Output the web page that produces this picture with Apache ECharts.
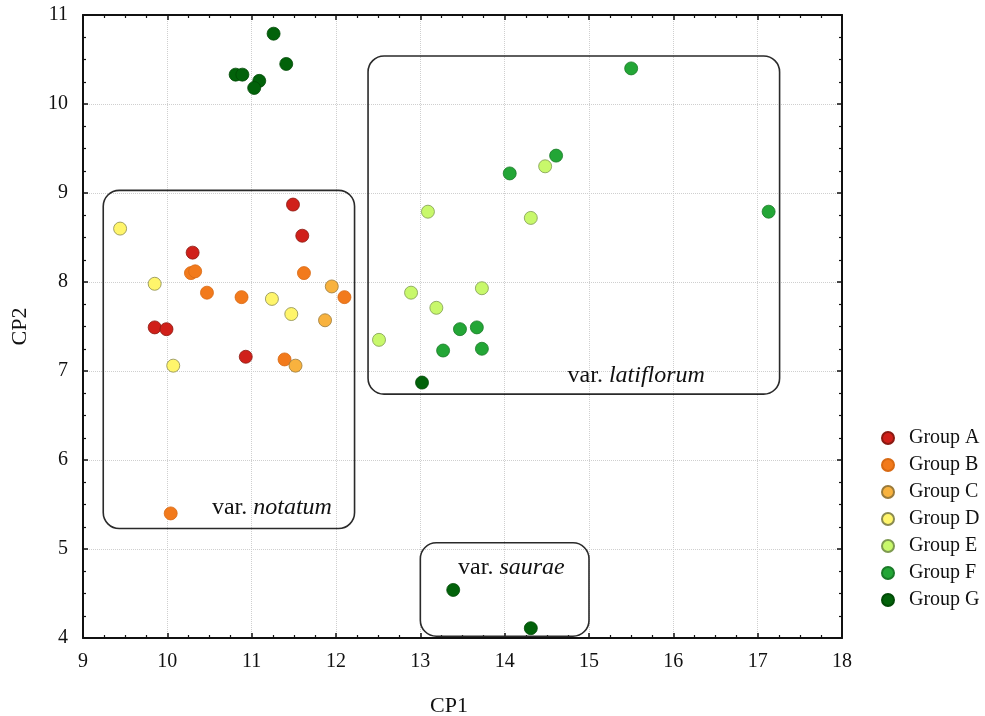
<!DOCTYPE html>
<html>
<head>
<meta charset="utf-8">
<script src="https://cdn.jsdelivr.net/npm/echarts@6/dist/echarts.min.js"></script>
<style>html,body{margin:0;padding:0;background:#fff;}#c{width:985px;height:716px;}</style>
</head>
<body>
<div id="c"></div>
<script>
const groupNames = ['Group A','Group B','Group C','Group D','Group E','Group F','Group G'];
const groupA = [[11.49,8.87],[11.60,8.52],[10.30,8.33],[9.85,7.49],[9.99,7.47],[10.93,7.16]];
const groupB = [[10.28,8.10],[10.33,8.12],[10.47,7.88],[10.88,7.83],[11.62,8.10],[12.10,7.83],[11.39,7.13],[10.04,5.40]];
const groupC = [[11.95,7.95],[11.87,7.57],[11.52,7.06]];
const groupD = [[9.44,8.60],[9.85,7.98],[11.24,7.81],[11.47,7.64],[10.07,7.06]];
const groupE = [[13.09,8.79],[14.31,8.72],[14.48,9.30],[12.89,7.88],[13.73,7.93],[13.19,7.71],[12.51,7.35]];
const groupF = [[15.50,10.40],[14.61,9.42],[14.06,9.22],[17.13,8.79],[13.47,7.47],[13.67,7.49],[13.27,7.23],[13.73,7.25]];
const groupG = [[11.26,10.79],[11.41,10.45],[10.81,10.33],[10.89,10.33],[11.09,10.26],[11.03,10.18],[13.02,6.87],[13.39,4.54],[14.31,4.11]];
// variety boxes: [xMin, yMin, xMax, yMax, labelX, labelY]
const boxNotatum = [9.24, 5.23, 12.22, 9.03, 11.24, 5.46];
const boxLatiflorum = [12.38, 6.74, 17.26, 10.54, 15.56, 6.95];
const boxSaurae = [13.0, 4.02, 15.0, 5.07, 14.08, 4.79];
const boxLabels = ['notatum', 'latiflorum', 'saurae'];
const xTicks = [9, 18, 1];
const yTicks = [4, 11, 1];

const FONT = 'Liberation Serif';
const colors = ['#d0201a','#f27a1c','#f8b23e','#fff56b','#c8f86b','#23a636','#02620a'];
const borders = ['#8a1a12','#d86a14','#9a7a3a','#8a8a50','#7e9a50','#1a7a28','#014a06'];
const groupData = [groupA, groupB, groupC, groupD, groupE, groupF, groupG];

const chart = echarts.init(document.getElementById('c'), null, {renderer: 'canvas'});

const axisCommon = {
  type: 'value',
  interval: 1,
  axisLine: {show: true, lineStyle: {color: '#111', width: 2}},
  axisTick: {show: true, inside: true, length: 5, lineStyle: {color: '#111', width: 1.5}},
  minorTick: {show: true, splitNumber: 4, length: 3, lineStyle: {color: '#111', width: 1.2}},
  splitLine: {show: false},
  minorSplitLine: {show: false}
};

const scatterSeries = groupData.map((d, i) => ({
  name: groupNames[i],
  type: 'scatter',
  data: d,
  symbol: 'circle',
  symbolSize: 13,
  z: 3,
  itemStyle: {color: colors[i], borderColor: borders[i], borderWidth: 0.8, opacity: 1}
}));

const boxSeries = {
  type: 'custom',
  coordinateSystem: 'cartesian2d',
  xAxisIndex: 0, yAxisIndex: 0,
  silent: true,
  z: 2,
  data: [boxNotatum.concat([0]), boxLatiflorum.concat([1]), boxSaurae.concat([2])],
  renderItem: function (params, api) {
    const tl = api.coord([api.value(0), api.value(3)]);
    const br = api.coord([api.value(2), api.value(1)]);
    const lp = api.coord([api.value(4), api.value(5)]);
    const name = boxLabels[api.value(6)];
    return {
      type: 'group',
      children: [
        {type: 'rect', shape: {x: tl[0], y: tl[1], width: br[0] - tl[0], height: br[1] - tl[1], r: 16},
          style: {fill: 'none', stroke: '#2a2a2a', lineWidth: 1.6}},
        {type: 'text', x: lp[0], y: lp[1],
          style: {text: '{r|var. }{i|' + name + '}', align: 'center', verticalAlign: 'middle',
            rich: {
              r: {fontFamily: FONT, fontSize: 24, fill: '#111', color: '#111'},
              i: {fontFamily: FONT, fontSize: 24, fontStyle: 'italic', fill: '#111', color: '#111'}
            }}}
      ]
    };
  }
};

chart.setOption({
  animation: false,
  backgroundColor: '#fff',
  grid: {left: 83, right: 143, top: 15, bottom: 78, containLabel: false, outerBoundsMode: 'none'},
  legend: {
    orient: 'vertical',
    left: 876, top: 423,
    data: groupNames,
    icon: 'circle',
    itemWidth: 12, itemHeight: 12,
    itemGap: 7,
    textStyle: {fontFamily: FONT, fontSize: 20, color: '#111', padding: [0, 0, 0, 10]}
  },
  xAxis: [
    Object.assign({}, axisCommon, {
      min: xTicks[0], max: xTicks[1], interval: xTicks[2], position: 'bottom',
      splitLine: {show: true, lineStyle: {color: '#cfcfcf', type: 'dotted', width: 1}},
      axisLabel: {fontFamily: FONT, fontSize: 20, color: '#111', margin: 14}
    }),
    Object.assign({}, axisCommon, {
      min: xTicks[0], max: xTicks[1], interval: xTicks[2], position: 'top',
      axisLabel: {show: false}
    })
  ],
  yAxis: [
    Object.assign({}, axisCommon, {
      min: yTicks[0], max: yTicks[1], interval: yTicks[2], position: 'left',
      name: 'CP2', nameLocation: 'middle', nameGap: 52,
      nameTextStyle: {fontFamily: FONT, fontSize: 22, color: '#111'},
      splitLine: {show: true, lineStyle: {color: '#cfcfcf', type: 'dotted', width: 1}},
      axisLabel: {fontFamily: FONT, fontSize: 20, color: '#111', margin: 15}
    }),
    Object.assign({}, axisCommon, {
      min: yTicks[0], max: yTicks[1], interval: yTicks[2], position: 'right',
      axisLabel: {show: false}
    })
  ],
  graphic: [
    {type: 'text', left: 430, top: 695, style: {text: 'CP1', font: '22px "Liberation Serif"', fill: '#111'}}
  ],
  series: [boxSeries].concat(scatterSeries)
});
</script>
</body>
</html>
